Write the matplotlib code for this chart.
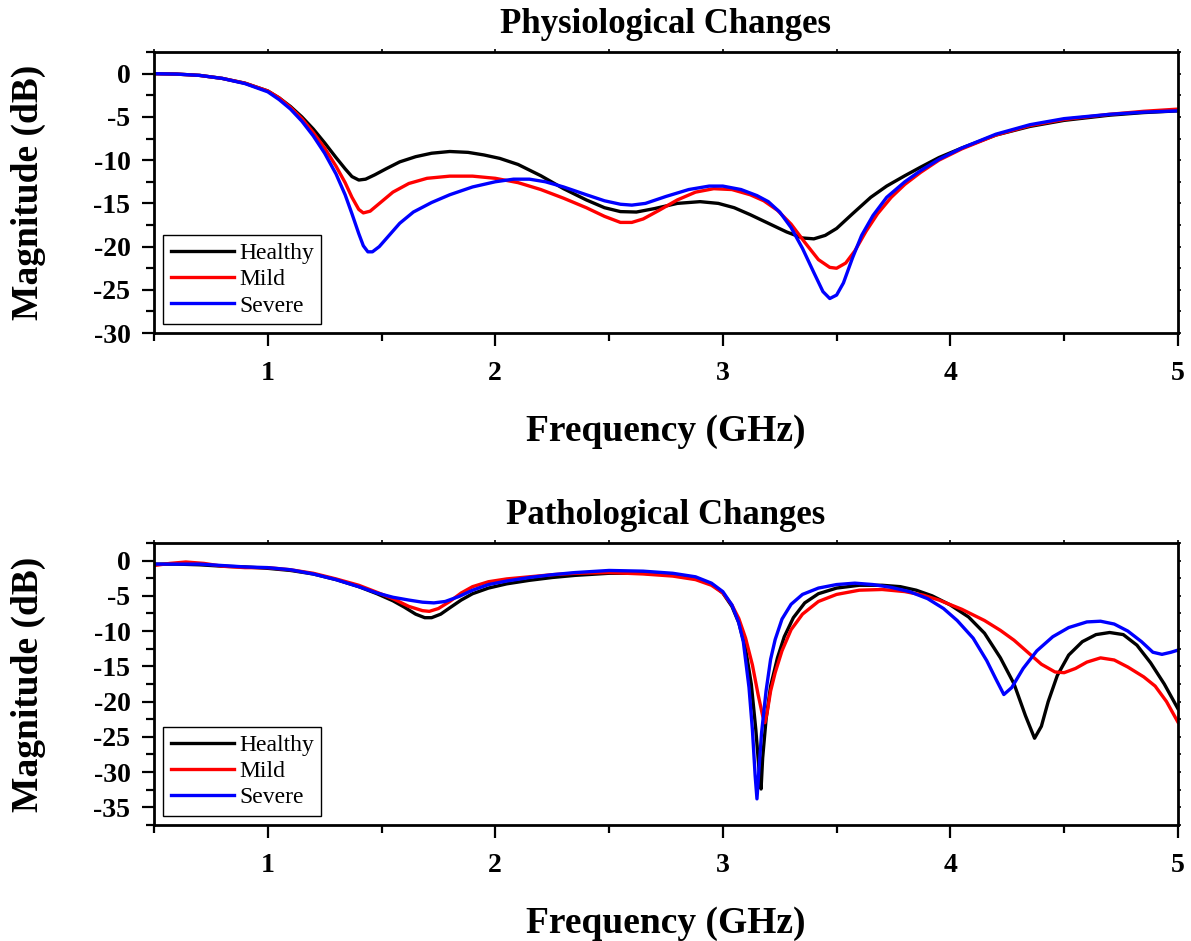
import numpy as np
import matplotlib
matplotlib.use("Agg")
import matplotlib.pyplot as plt
from matplotlib.ticker import MultipleLocator, NullFormatter

plt.rcParams['font.family'] = ['Liberation Serif', 'DejaVu Serif']
plt.rcParams['axes.unicode_minus'] = False

# ---- Physiological changes (top) ----
f_h1 = [0.5, 0.6, 0.7, 0.8, 0.9, 1.0, 1.05, 1.1, 1.15, 1.2, 1.25, 1.3, 1.34, 1.37, 1.4,
        1.43, 1.47, 1.52, 1.58, 1.65, 1.72, 1.8, 1.88, 1.95, 2.02, 2.1, 2.2, 2.3, 2.4,
        2.48, 2.55, 2.62, 2.7, 2.8, 2.9, 2.98, 3.05, 3.12, 3.2, 3.28, 3.35, 3.4, 3.45,
        3.5, 3.57, 3.65, 3.72, 3.8, 3.87, 3.95, 4.05, 4.2, 4.35, 4.5, 4.7, 4.85, 5.0]
m_h1 = [0, -0.05, -0.2, -0.55, -1.1, -2.0, -2.8, -3.8, -5.0, -6.4, -8.0, -9.7, -11.0, -11.9, -12.3,
        -12.2, -11.7, -11.0, -10.2, -9.6, -9.2, -9.0, -9.1, -9.4, -9.8, -10.5, -11.8, -13.3, -14.6,
        -15.5, -15.95, -16.0, -15.6, -15.0, -14.8, -15.0, -15.5, -16.3, -17.3, -18.3, -19.0, -19.1, -18.7,
        -17.9, -16.2, -14.3, -13.0, -11.8, -10.8, -9.7, -8.6, -7.1, -6.1, -5.4, -4.8, -4.5, -4.3]

f_m1 = [0.5, 0.6, 0.7, 0.8, 0.9, 1.0, 1.05, 1.1, 1.15, 1.2, 1.25, 1.3, 1.34, 1.37, 1.4,
        1.42, 1.45, 1.5, 1.55, 1.62, 1.7, 1.8, 1.9, 2.0, 2.1, 2.2, 2.3, 2.4, 2.48, 2.55,
        2.6, 2.65, 2.72, 2.8, 2.88, 2.96, 3.04, 3.12, 3.18, 3.24, 3.3, 3.36, 3.42, 3.47,
        3.5, 3.54, 3.58, 3.63, 3.68, 3.74, 3.8, 3.87, 3.95, 4.05, 4.2, 4.35, 4.5, 4.7,
        4.85, 5.0]
m_m1 = [0, -0.05, -0.2, -0.55, -1.1, -2.0, -2.8, -3.9, -5.2, -6.8, -8.6, -10.7, -12.6, -14.3, -15.7,
        -16.1, -15.9, -14.8, -13.7, -12.7, -12.1, -11.85, -11.85, -12.1, -12.6, -13.4, -14.4, -15.5, -16.5, -17.2,
        -17.2, -16.8, -15.8, -14.6, -13.7, -13.3, -13.4, -14.0, -14.7, -15.8, -17.4, -19.5, -21.5, -22.4,
        -22.5, -21.9, -20.5, -18.2, -16.2, -14.3, -12.8, -11.4, -10.0, -8.7, -7.1, -6.0, -5.3, -4.7,
        -4.35, -4.1]

f_s1 = [0.5, 0.6, 0.7, 0.8, 0.9, 1.0, 1.05, 1.1, 1.15, 1.2, 1.25, 1.3, 1.34, 1.37, 1.4,
        1.42, 1.44, 1.46, 1.49, 1.53, 1.58, 1.64, 1.72, 1.8, 1.9, 2.0, 2.08, 2.15, 2.22,
        2.3, 2.4, 2.48, 2.55, 2.6, 2.66, 2.75, 2.85, 2.94, 3.0, 3.08, 3.15, 3.2, 3.25,
        3.3, 3.35, 3.4, 3.44, 3.47, 3.5, 3.53, 3.57, 3.61, 3.66, 3.72, 3.8, 3.87, 3.95,
        4.05, 4.2, 4.35, 4.5, 4.7, 4.85, 5.0]
m_s1 = [0, -0.05, -0.2, -0.55, -1.15, -2.1, -3.0, -4.1, -5.5, -7.2, -9.2, -11.6, -14.0, -16.2, -18.5,
        -19.9, -20.6, -20.6, -20.0, -18.8, -17.3, -16.0, -14.9, -14.0, -13.1, -12.5, -12.2, -12.2, -12.5,
        -13.1, -14.0, -14.7, -15.1, -15.2, -15.0, -14.2, -13.4, -13.0, -13.0, -13.4, -14.1, -14.8, -16.0,
        -17.8, -20.2, -23.0, -25.2, -26.0, -25.6, -24.2, -21.3, -18.7, -16.4, -14.3, -12.5, -11.2, -9.9,
        -8.6, -7.0, -5.9, -5.2, -4.7, -4.45, -4.3]

# ---- Pathological changes (bottom) ----
f_h2 = [0.5, 0.6, 0.7, 0.8, 0.9, 1.0, 1.1, 1.2, 1.3, 1.4, 1.48, 1.55, 1.6, 1.65, 1.69,
        1.72, 1.76, 1.8, 1.85, 1.9, 1.97, 2.05, 2.15, 2.25, 2.35, 2.5, 2.65, 2.78, 2.88,
        2.95, 3.0, 3.04, 3.07, 3.1, 3.125, 3.145, 3.16, 3.168, 3.175, 3.19, 3.21, 3.24,
        3.27, 3.31, 3.36, 3.42, 3.5, 3.6, 3.7, 3.78, 3.85, 3.92, 4.0, 4.08, 4.15, 4.22,
        4.28, 4.33, 4.37, 4.4, 4.43, 4.47, 4.52, 4.58, 4.64, 4.7, 4.76, 4.82, 4.88, 4.94,
        5.0]
m_h2 = [-0.5, -0.5, -0.6, -0.8, -0.9, -1.1, -1.4, -1.9, -2.7, -3.7, -4.7, -5.7, -6.6, -7.6, -8.1,
        -8.1, -7.6, -6.7, -5.6, -4.7, -3.9, -3.3, -2.8, -2.4, -2.1, -1.8, -1.8, -2.0, -2.5,
        -3.3, -4.6, -6.5, -8.8, -12.5, -17.5, -24.0, -30.0, -32.4, -28.0, -22.5, -17.8, -13.8,
        -10.8, -8.1, -6.0, -4.7, -3.9, -3.5, -3.5, -3.7, -4.2, -5.0, -6.3, -8.0, -10.3, -13.8,
        -17.5, -22.0, -25.2, -23.5, -20.0, -16.3, -13.4, -11.5, -10.5, -10.2, -10.5, -12.0, -14.5, -17.5,
        -21.0]

f_m2 = [0.5, 0.57, 0.64, 0.72, 0.8, 0.9, 1.0, 1.1, 1.2, 1.3, 1.4, 1.48, 1.55, 1.62, 1.68,
        1.71, 1.75, 1.8, 1.85, 1.9, 1.97, 2.05, 2.15, 2.25, 2.35, 2.5, 2.65, 2.78, 2.88,
        2.95, 3.0, 3.04, 3.07, 3.1, 3.13, 3.155, 3.175, 3.185, 3.195, 3.21, 3.23, 3.26,
        3.3, 3.35, 3.42, 3.5, 3.6, 3.7, 3.8, 3.88, 3.95, 4.05, 4.15, 4.22, 4.28, 4.34,
        4.4, 4.46, 4.5, 4.55, 4.6, 4.66, 4.72, 4.78, 4.85, 4.9, 4.95, 5.0]
m_m2 = [-0.7, -0.4, -0.2, -0.4, -0.8, -1.0, -1.0, -1.3, -1.8, -2.6, -3.5, -4.5, -5.4, -6.5, -7.1,
        -7.2, -6.8, -5.8, -4.6, -3.7, -3.0, -2.6, -2.3, -2.0, -1.8, -1.7, -1.9, -2.2, -2.7,
        -3.5, -4.6, -6.3, -8.2, -11.0, -14.8, -19.0, -22.0, -23.0, -21.5, -18.5, -15.9, -12.8,
        -9.8, -7.6, -5.8, -4.8, -4.2, -4.1, -4.4, -4.9, -5.6, -6.9, -8.5, -9.9, -11.3, -13.0,
        -14.7, -15.8, -15.9, -15.3, -14.4, -13.8, -14.1, -15.1, -16.5, -17.8, -20.0, -22.9]

f_s2 = [0.5, 0.6, 0.7, 0.8, 0.9, 1.0, 1.1, 1.2, 1.3, 1.4, 1.48, 1.55, 1.62, 1.68, 1.73,
        1.78, 1.84, 1.9, 1.97, 2.05, 2.15, 2.25, 2.35, 2.5, 2.65, 2.78, 2.88, 2.95, 3.0,
        3.04, 3.07, 3.09, 3.115, 3.13, 3.142, 3.15, 3.158, 3.17, 3.19, 3.21, 3.23, 3.26,
        3.3, 3.35, 3.42, 3.5, 3.58, 3.66, 3.74, 3.82, 3.9, 3.97, 4.03, 4.1, 4.16, 4.2,
        4.235, 4.27, 4.32, 4.38, 4.45, 4.52, 4.6, 4.66, 4.72, 4.78, 4.84, 4.89, 4.93,
        4.97, 5.0]
m_s2 = [-0.5, -0.5, -0.5, -0.7, -0.9, -1.0, -1.3, -1.9, -2.7, -3.7, -4.6, -5.2, -5.6, -5.9, -6.0,
        -5.8, -5.1, -4.2, -3.4, -2.9, -2.4, -2.0, -1.7, -1.4, -1.5, -1.8, -2.3, -3.2, -4.4,
        -6.3, -8.8, -11.5, -18.0, -24.0, -30.5, -33.8, -30.0, -24.5, -18.5, -14.0, -11.2, -8.3,
        -6.2, -4.8, -3.9, -3.4, -3.2, -3.4, -3.8, -4.4, -5.4, -6.8, -8.5, -11.0, -14.2, -16.8,
        -19.0, -18.0, -15.3, -12.8, -10.8, -9.5, -8.7, -8.6, -9.0, -10.0, -11.5, -13.0, -13.3,
        -13.0, -12.7]

labels = ['Healthy', 'Mild', 'Severe']
colors = ['black', 'red', 'blue']

fig = plt.figure(figsize=(11.91, 9.41), dpi=100)
ax1 = fig.add_axes([0.1293, 0.646, 0.8597, 0.2987])
ax2 = fig.add_axes([0.1293, 0.1233, 0.8597, 0.2997])

panels = [
    (ax1, 'Physiological Changes', [(f_h1, m_h1), (f_m1, m_m1), (f_s1, m_s1)], (-30, 2.5)),
    (ax2, 'Pathological Changes', [(f_h2, m_h2), (f_m2, m_m2), (f_s2, m_s2)], (-37.5, 2.5)),
]

for ax, title, series, ylim in panels:
    for (f, m), lab, c in zip(series, labels, colors):
        ax.plot(f, m, color=c, lw=2.4, label=lab, solid_joinstyle='round')
    ax.set_xlim(0.5, 5)
    ax.set_ylim(*ylim)
    ax.xaxis.set_major_locator(MultipleLocator(1))
    ax.xaxis.set_minor_locator(MultipleLocator(0.5))
    ax.yaxis.set_major_locator(MultipleLocator(5))
    ax.yaxis.set_minor_locator(MultipleLocator(2.5))
    ax.tick_params(which='major', direction='out', length=9, width=1.6,
                   labelsize=20, pad=8)
    ax.tick_params(axis='x', which='major', pad=11)
    ax.tick_params(which='minor', direction='out', length=5.5, width=1.6)
    for lbl in ax.get_xticklabels() + ax.get_yticklabels():
        lbl.set_fontweight('bold')
    for sp in ax.spines.values():
        sp.set_linewidth(2)
    # short ticks on top and right
    sx = ax.secondary_xaxis('top')
    sx.xaxis.set_major_locator(MultipleLocator(0.5))
    sx.xaxis.set_major_formatter(NullFormatter())
    sx.tick_params(direction='out', length=2.5, width=1.2)
    sy = ax.secondary_yaxis('right')
    sy.yaxis.set_major_locator(MultipleLocator(2.5))
    sy.yaxis.set_major_formatter(NullFormatter())
    sy.tick_params(direction='out', length=2.5, width=1.2)

    ax.set_title(title, fontsize=25, fontweight='bold', pad=14)
    ax.set_xlabel('Frequency (GHz)', fontsize=27, fontweight='bold', labelpad=20)
    ax.set_ylabel('Magnitude (dB)', fontsize=27, fontweight='bold', labelpad=34)
    leg = ax.legend(loc='lower left', fontsize=17, handlelength=2.7, handletextpad=0.2,
                    labelspacing=0.2, borderpad=0.3, fancybox=False, framealpha=1,
                    borderaxespad=0.4)
    leg.get_frame().set_edgecolor('black')
    leg.get_frame().set_linewidth(1.0)

fig.savefig('out.png', dpi=100)
